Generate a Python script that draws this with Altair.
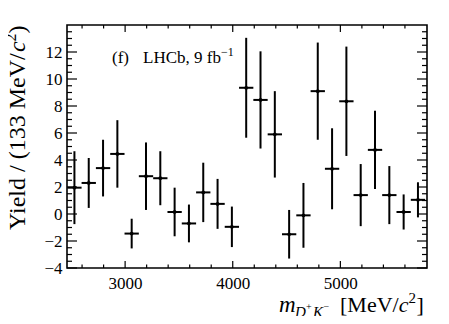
import altair as alt
import pandas as pd

# Bin centres (MeV/c^2), yields and symmetric uncertainties
centers = [2529, 2662, 2795, 2928, 3061, 3194, 3327, 3460, 3593, 3726, 3859, 3992,
           4125, 4258, 4391, 4524, 4657, 4790, 4923, 5056, 5189, 5322, 5455, 5588, 5721]
yields = [1.95, 2.3, 3.4, 4.45, -1.45, 2.8, 2.65, 0.15, -0.7, 1.6, 0.75, -0.95,
          9.35, 8.45, 5.9, -1.5, -0.1, 9.1, 3.35, 8.35, 1.4, 4.75, 1.4, 0.15, 1.05]
errors = [2.7, 1.85, 2.1, 2.5, 1.1, 2.5, 2.0, 1.8, 1.4, 2.2, 1.85, 1.5,
          3.7, 3.6, 3.2, 1.8, 2.4, 3.6, 3.0, 4.05, 2.3, 2.9, 2.15, 1.3, 1.3]
bin_width = 133

x_major = [3000, 4000, 5000]
x_minor = [2600, 2800, 3200, 3400, 3600, 3800, 4200, 4400, 4600, 4800, 5200, 5400, 5600]
y_major = [-4, -2, 0, 2, 4, 6, 8, 10, 12]
y_minor = [v / 2 for v in range(-7, 28) if v % 4 != 0]

W, H = 360, 243
FONT = "Liberation Serif"

df = pd.DataFrame({"m": centers, "y": yields, "e": errors})
df["lo"] = df["y"] - df["e"]
df["hi"] = df["y"] + df["e"]
df["xl"] = df["m"] - bin_width / 2
df["xr"] = df["m"] + bin_width / 2

xs = alt.Scale(domain=[2460, 5805], nice=False, zero=False)
ys = alt.Scale(domain=[-4, 14], nice=False, zero=False)

XA = alt.Axis(values=x_major, ticks=False, domain=False, grid=False, title=None,
              labelFont=FONT, labelFontSize=17, labelColor="black",
              labelPadding=7, format="d", labelOverlap=False)
YA = alt.Axis(values=y_major, ticks=False, domain=False, grid=False, title=None,
              labelFont=FONT, labelFontSize=17, labelColor="black",
              labelPadding=5, labelOverlap=False)


def X(f):
    return alt.X(f, scale=xs, axis=XA, title=None)


def Y(f):
    return alt.Y(f, scale=ys, axis=YA, title=None)


base = alt.Chart(df)

vbars = base.mark_rule(color="black", strokeWidth=2).encode(
    x=X("m:Q"), y=Y("lo:Q"), y2="hi:Q")
hbars = base.mark_rule(color="black", strokeWidth=2).encode(
    x=X("xl:Q"), x2="xr:Q", y=Y("y:Q"))
pts = base.mark_point(filled=True, color="black", size=14, opacity=1).encode(
    x=X("m:Q"), y=Y("y:Q"))


def xticks(vals, length):
    d = alt.Chart(pd.DataFrame({"v": vals}))
    bot = d.mark_rule(color="black", strokeWidth=1.2).encode(
        x=X("v:Q"), y=alt.value(H), y2=alt.value(H - length))
    top = d.mark_rule(color="black", strokeWidth=1.2).encode(
        x=X("v:Q"), y=alt.value(0), y2=alt.value(length))
    return [bot, top]


def yticks(vals, length):
    d = alt.Chart(pd.DataFrame({"v": vals}))
    left = d.mark_rule(color="black", strokeWidth=1.2).encode(
        y=Y("v:Q"), x=alt.value(0), x2=alt.value(length))
    right = d.mark_rule(color="black", strokeWidth=1.2).encode(
        y=Y("v:Q"), x=alt.value(W), x2=alt.value(W - length))
    return [left, right]


one = pd.DataFrame({"k": [0]})


def label(txt, x, y, size, italic=False, angle=0, align="left"):
    props = dict(text=txt, font=FONT, fontSize=size, color="black",
                 align=align, baseline="alphabetic")
    if italic:
        props["fontStyle"] = "italic"
    if angle:
        props["angle"] = angle
    return alt.Chart(one).mark_text(**props).encode(x=alt.value(x), y=alt.value(y))


texts = [
    # y-axis title (rotated)
    label("Yield / (133 MeV/", -42, 205, 24, angle=270),
    label("c", -42, 27, 24, italic=True, angle=270),
    label("2", -51, 16.4, 16, angle=270),
    label(")", -42, 8.4, 24, angle=270),
    # x-axis title
    label("m", 212, 287, 23, italic=True),
    label("D", 228, 292, 15, italic=True),
    label("s", 239, 297, 10),
    label("+", 239, 285, 10),
    label("K", 246, 292, 15, italic=True),
    label("\u2212", 256.5, 285, 10),
    label("[MeV/", 273, 287, 22),
    label("c", 331.7, 287, 22, italic=True),
    label("2", 341.5, 278, 15),
    label("]", 349.5, 287, 22),
    # annotation
    label("(f)", 45, 38, 17),
    label("LHCb, 9 fb", 76, 38, 17),
    label("\u22121", 154, 31, 12),
]

layers = [vbars, hbars, pts] + xticks(x_major, 7) + xticks(x_minor, 3.5) \
    + yticks(y_major, 10) + yticks(y_minor, 5) + texts

chart = alt.layer(*layers).properties(
    width=W, height=H,
    autosize=alt.AutoSizeParams(type="none"),
    padding={"left": 59, "top": 17, "right": 14, "bottom": 48},
).configure_view(stroke="black", strokeWidth=1.6)

chart.save("out.html", embed_options={"renderer": "svg", "actions": False})
